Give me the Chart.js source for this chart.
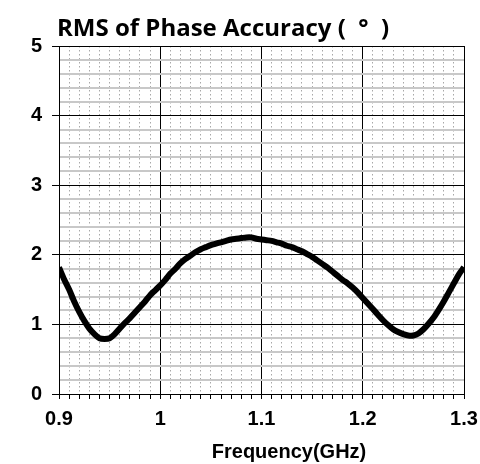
<!DOCTYPE html>
<html>
<head>
<meta charset="utf-8">
<script src="https://cdn.jsdelivr.net/npm/chart.js@4.4.0/dist/chart.umd.min.js"></script>
<style>
  html, body { margin: 0; padding: 0; background: #fff; }
  #wrap { width: 480px; height: 464px; }
</style>
</head>
<body>
<div id="wrap"><canvas id="chart" width="480" height="464"></canvas></div>
<script>
const chartTitle = "RMS of Phase Accuracy (  °  )";
const xTitle = "Frequency(GHz)";

// frequency points (GHz) and RMS phase accuracy (deg)
const freqGHz = [
  0.900, 0.905, 0.910, 0.915, 0.920, 0.925, 0.930, 0.935, 0.940, 0.945,
  0.950, 0.955, 0.960, 0.965, 0.970, 0.975, 0.980, 0.985, 0.990, 0.995,
  1.000, 1.005, 1.010, 1.015, 1.020, 1.025, 1.030, 1.035, 1.040, 1.045,
  1.050, 1.055, 1.060, 1.065, 1.070, 1.075, 1.080, 1.085, 1.090, 1.095,
  1.100, 1.105, 1.110, 1.115, 1.120, 1.125, 1.130, 1.135, 1.140, 1.145,
  1.150, 1.155, 1.160, 1.165, 1.170, 1.175, 1.180, 1.185, 1.190, 1.195,
  1.200, 1.205, 1.210, 1.215, 1.220, 1.225, 1.230, 1.235, 1.240, 1.245,
  1.250, 1.255, 1.260, 1.265, 1.270, 1.275, 1.280, 1.285, 1.290, 1.295,
  1.300
];
const rmsDeg = [
  1.82, 1.65, 1.50, 1.33, 1.18, 1.05, 0.94, 0.86, 0.80, 0.79,
  0.80, 0.86, 0.94, 1.02, 1.09, 1.17, 1.25, 1.33, 1.42, 1.49,
  1.56, 1.64, 1.73, 1.80, 1.88, 1.94, 1.99, 2.04, 2.08, 2.11,
  2.14, 2.16, 2.18, 2.20, 2.22, 2.23, 2.24, 2.25, 2.25, 2.23,
  2.22, 2.21, 2.20, 2.18, 2.16, 2.13, 2.11, 2.08, 2.05, 2.01,
  1.97, 1.92, 1.87, 1.82, 1.76, 1.70, 1.64, 1.59, 1.53, 1.46,
  1.38, 1.30, 1.22, 1.14, 1.06, 0.99, 0.93, 0.89, 0.86, 0.84,
  0.84, 0.87, 0.93, 1.01, 1.10, 1.21, 1.33, 1.46, 1.59, 1.72,
  1.82
];

const xMin = 0.9, xMax = 1.3, xMinor = 0.01;
const yMin = 0, yMax = 5, yMinor = 0.2;

const points = freqGHz.map((f, i) => ({ x: f, y: rmsDeg[i] }));

function isMajorX(v) { return Math.round(v * 100) % 10 === 0; }
function isMajorY(v) { return Math.abs(v - Math.round(v)) < 1e-6; }

const labelFont = { family: "'Liberation Sans', Arial, sans-serif", size: 20, weight: "bold" };

const textPlugin = {
  id: "texts",
  afterDraw(chart) {
    const ctx = chart.ctx;
    ctx.save();
    ctx.fillStyle = "#000";
    ctx.textBaseline = "alphabetic";
    ctx.textAlign = "left";
    ctx.font = "bold 24px 'Open Sans', sans-serif";
    ctx.fillText(chartTitle, 57, 36);
    ctx.textAlign = "center";
    ctx.font = "bold 20px 'Liberation Sans', Arial, sans-serif";
    ctx.fillText(xTitle, 289, 458);
    ctx.restore();
  }
};

new Chart(document.getElementById("chart"), {
  type: "line",
  data: {
    datasets: [{
      data: points,
      borderColor: "#000",
      borderWidth: 6,
      pointRadius: 0,
      tension: 0.3,
      fill: false
    }]
  },
  options: {
    responsive: false,
    animation: false,
    events: [],
    layout: { padding: { top: 46, right: 16, left: 0, bottom: 0 } },
    plugins: { legend: { display: false }, tooltip: { enabled: false }, title: { display: false } },
    scales: {
      x: {
        type: "linear",
        min: xMin,
        max: xMax,
        ticks: {
          stepSize: xMinor,
          autoSkip: false,
          maxRotation: 0,
          padding: 8,
          color: "#000",
          font: labelFont,
          callback: (v) => isMajorX(v) ? String(Math.round(v * 10) / 10) : ""
        },
        grid: {
          color: (c) => isMajorX(c.tick.value) ? "#000" : "rgba(0,0,0,0)",
          lineWidth: 1,
          tickLength: 5,
          tickColor: "#000"
        },
        border: { color: "#000", width: 1 },
        afterFit: (s) => { s.height = 70; s.paddingLeft = 0; s.paddingRight = 0; }
      },
      x2: {
        type: "linear",
        position: "bottom",
        min: xMin,
        max: xMax,
        ticks: { display: false, stepSize: xMinor, autoSkip: false },
        grid: {
          color: (c) => isMajorX(c.tick.value) ? "rgba(0,0,0,0)" : "#a8a8a8",
          lineWidth: 1,
          drawTicks: false
        },
        border: { display: false, dash: [1.5, 2.5] },
        afterFit: (s) => { s.height = 0; s.paddingLeft = 0; s.paddingRight = 0; }
      },
      y: {
        min: yMin,
        max: yMax,
        ticks: {
          stepSize: yMinor,
          autoSkip: false,
          padding: 10,
          color: "#000",
          font: labelFont,
          callback: (v) => isMajorY(v) ? String(Math.round(v)) : ""
        },
        grid: {
          color: (c) => isMajorY(c.tick.value) ? "#000" : "#c8c8c8",
          lineWidth: (c) => isMajorY(c.tick.value) ? 1 : 2,
          tickLength: 7,
          tickColor: (c) => isMajorY(c.tick.value) ? "#000" : "rgba(0,0,0,0)"
        },
        border: { color: "#000", width: 1 },
        afterFit: (s) => { s.width = 59; s.paddingTop = 0; s.paddingBottom = 0; }
      }
    }
  },
  plugins: [textPlugin]
});
</script>
</body>
</html>
